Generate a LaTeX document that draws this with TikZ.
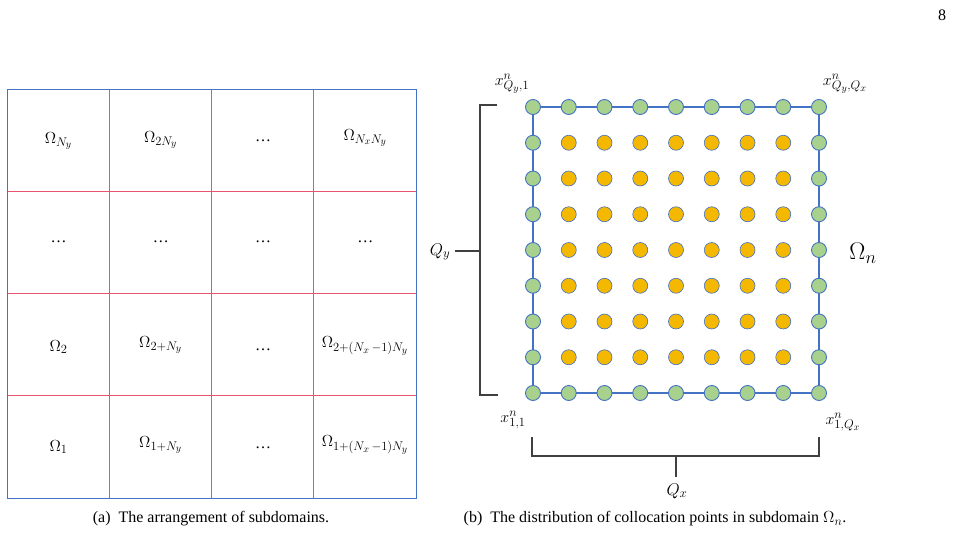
\RequirePackage{fix-cm}
\documentclass[tikz,border=0pt]{standalone}
\usepackage{fontspec}
\setmainfont{Liberation Serif}
\DeclareMathSizes{16}{16}{12.5}{10}
\DeclareMathSizes{17}{17}{13}{10.5}
\DeclareMathSizes{24}{24}{18}{13}
\usetikzlibrary{backgrounds}
\definecolor{bblue}{HTML}{4472C4}
\definecolor{pinkline}{rgb}{0.91,0.33,0.43}
\definecolor{dgreen}{HTML}{A9D18E}
\definecolor{dgold}{HTML}{F5B800}
\definecolor{brk}{HTML}{404040}
\begin{document}
\begin{tikzpicture}[x=1pt,y=-1pt,
  redbar/.style={fill=pinkline, draw=none},
  gridframe/.style={draw=bblue, line width=1pt, minimum width=409pt, minimum height=409pt, inner sep=0pt},
  celltext/.style={font=\fontsize{16}{19}\selectfont, inner sep=0pt},
  bdot/.style={circle, draw=bblue, line width=0.9pt, fill=dgreen, minimum size=15pt, inner sep=0pt},
  idot/.style={circle, draw=bblue, line width=0.6pt, fill=dgold, minimum size=15pt, inner sep=0pt},
  bline/.style={bblue, line width=1.2pt},
  brack/.style={brk, line width=1.1pt},
  labtext/.style={font=\fontsize{16}{19}\selectfont, inner sep=0pt},
  captext/.style={font=\fontsize{16}{19}\selectfont, inner sep=0pt}]
\useasboundingbox (0,0) rectangle (954,533);

% ---------- (a) grid ----------
\fill[redbar] (108.55,89) rectangle (109.95,498);
\fill[redbar] (210.8,89) rectangle (212.2,498);
\fill[redbar] (313.05,89) rectangle (314.45,498);
\fill[redbar] (7,190.55) rectangle (416,191.95);
\fill[redbar] (7,292.8) rectangle (416,294.2);
\fill[redbar] (7,395.05) rectangle (416,396.45);
\node[gridframe] (grid) at (211.5,293.5) {};

% page number
\node[captext] (page) at (942,15) {8};

\node[celltext] (a11) at (58.5,141)   {$\Omega_{N_y}$};
\node[celltext] (a12) at (160.75,140) {$\Omega_{2N_y}$};
\node[celltext] (a13) at (263,141)    {…};
\node[celltext] (a14) at (365.25,138) {$\Omega_{N_xN_y}$};
\node[celltext] (a21) at (58.5,242)   {…};
\node[celltext] (a22) at (160.75,242) {…};
\node[celltext] (a23) at (263,242)    {…};
\node[celltext] (a24) at (365.25,242) {…};
\node[celltext] (a31) at (58.5,347)   {$\Omega_2$};
\node[celltext] (a32) at (160.75,345) {$\Omega_{2+N_y}$};
\node[celltext] (a33) at (263,350)    {…};
\node[celltext] (a34) at (365,346) {$\Omega_{2+(N_x\,{-}1)N_y}$};
\node[celltext] (a41) at (58.5,447)   {$\Omega_1$};
\node[celltext] (a42) at (160.75,445) {$\Omega_{1+N_y}$};
\node[celltext] (a43) at (263,448)    {…};
\node[celltext] (a44) at (365,445) {$\Omega_{1+(N_x\,{-}1)N_y}$};

% ---------- (b) collocation points ----------
\foreach \i in {1,...,9} {
  \foreach \j in {1,...,9} {
    \pgfmathtruncatemacro\bd{(\i==1)||(\i==9)||(\j==1)||(\j==9)}
    \pgfmathsetmacro\px{533+35.75*(\j-1)}
    \pgfmathsetmacro\py{107+35.75*(\i-1)}
    \ifnum\bd=1
      \node[bdot] (d\i-\j) at (\px,\py) {};
    \else
      \node[idot] (d\i-\j) at (\px,\py) {};
    \fi
  }
}
\begin{scope}[on background layer]
  \draw[bline] (d1-1.center) -- (d1-9.center) -- (d9-9.center) -- (d9-1.center) -- cycle;
\end{scope}

\node[labtext] (xtl) at (512,84)  {$x^n_{Q_y,1}$};
\node[labtext] (xtr) at (845,84)  {$x^n_{Q_y,Q_x}$};
\node[labtext] (xbl) at (513,420) {$x^n_{1,1}$};
\node[labtext] (xbr) at (843,422) {$x^n_{1,Q_x}$};
\node[inner sep=0pt, font=\fontsize{24}{28}\selectfont] (omn) at (863,253) {$\Omega_n$};

% left bracket
\coordinate (lb1) at (497,105);
\coordinate (lb2) at (480,105);
\coordinate (lb3) at (480,395);
\coordinate (lb4) at (498,395);
\coordinate (lbm) at (480,251);
\coordinate (lbt) at (455,251);
\node[labtext, font=\fontsize{17}{20}\selectfont] (qy) at (440,252) {$Q_y$};
\draw[brack] (lb1) -- (lb2) -- (lb3) -- (lb4);
\draw[brack] (lbm) -- (lbt);

% bottom bracket
\coordinate (bb1) at (532,437);
\coordinate (bb2) at (532,456);
\coordinate (bb3) at (819,456);
\coordinate (bb4) at (819,437);
\coordinate (bbm) at (676,456);
\coordinate (bbt) at (676,477);
\node[labtext, font=\fontsize{17}{20}\selectfont] (qx) at (677,491) {$Q_x$};
\draw[brack] (bb1) -- (bb2) -- (bb3) -- (bb4);
\draw[brack] (bbm) -- (bbt);

% captions
\node[captext] (capa) at (211,519) {(a)\enspace The arrangement of subdomains.};
\node[captext] (capb) at (655,519) {(b)\enspace The distribution of collocation points in subdomain $\Omega_n$.};
\end{tikzpicture}
\end{document}
